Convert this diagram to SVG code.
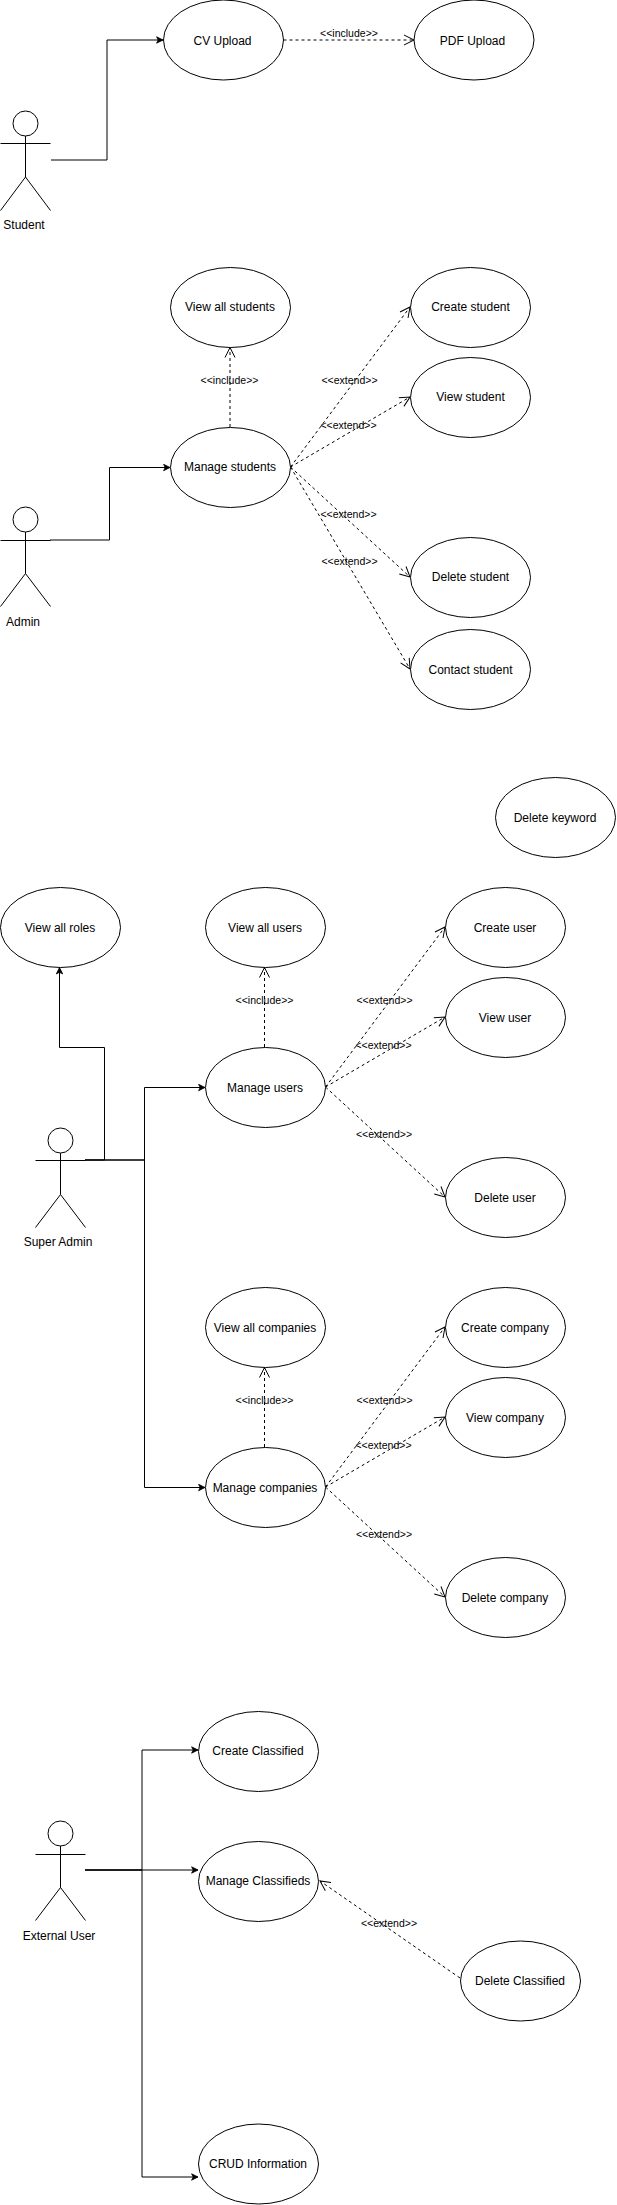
<svg xmlns="http://www.w3.org/2000/svg" width="617" height="2205" viewBox="0 0 617 2205">
<defs>
<style>
text{font-family:"Liberation Sans",Arial,sans-serif;fill:#000;text-anchor:middle}
.t{font-size:12px}
.l{font-size:10.500px}
.u{fill:#fff;stroke:#000;stroke-width:1}
.a{fill:none;stroke:#000;stroke-width:1}
.c{fill:none;stroke:#000;stroke-width:1;marker-end:url(#solid)}
.d{fill:none;stroke:#000;stroke-width:1;stroke-dasharray:3 3;marker-end:url(#open)}
</style>
<marker id="solid" viewBox="0 0 10 10" refX="9" refY="5" markerWidth="8" markerHeight="8" markerUnits="userSpaceOnUse" orient="auto"><path d="M1 1 L9 5 L1 9 L3 5 Z" fill="#000" stroke="#000" stroke-width="1"/></marker>
<marker id="open" viewBox="0 0 14 14" refX="13" refY="7" markerWidth="14" markerHeight="14" markerUnits="userSpaceOnUse" orient="auto"><path d="M3 2 L13 7 L3 12" fill="none" stroke="#000" stroke-width="1" stroke-dasharray="none"/></marker>
</defs>
<g id="connectors">
<path class="c" d="M51 160 H107 V40 H163"/>
<path class="d" d="M283.500 40 H414"/>
<path class="c" d="M50 540 H109.500 V467.500 H170"/>
<path class="d" d="M230 427 V347.500"/>
<path class="d" d="M290.500 467 L410 307"/>
<path class="d" d="M290.500 467 L410 397"/>
<path class="d" d="M290.500 467 L410 577"/>
<path class="d" d="M290.500 467 L410 669"/>
<path class="c" d="M85 1160 H104.500 V1047.500 H59.500 V967.500"/>
<path class="c" d="M85 1160 H144.500 V1087.500 H205"/>
<path class="c" d="M85 1160 H144.500 V1487.500 H205"/>
<path class="d" d="M264.500 1047 V967.500"/>
<path class="d" d="M325.500 1087 L445 927"/>
<path class="d" d="M325.500 1087 L445 1017"/>
<path class="d" d="M325.500 1087 L445 1197"/>
<path class="d" d="M264.500 1447 V1367.500"/>
<path class="d" d="M325.500 1487 L445 1327"/>
<path class="d" d="M325.500 1487 L445 1417"/>
<path class="d" d="M325.500 1487 L445 1597"/>
<path class="c" d="M85 1870 H142 V1750 H198"/>
<path class="c" d="M85 1870 H198"/>
<path class="c" d="M85 1870 H142 V2177 H198"/>
<path class="d" d="M460 1978 L320 1881"/>
<text class="l" x="349" y="36.500">&lt;&lt;include&gt;&gt;</text>
<text class="l" x="229.500" y="383.500">&lt;&lt;include&gt;&gt;</text>
<text class="l" x="349.500" y="383.500">&lt;&lt;extend&gt;&gt;</text>
<text class="l" x="348.500" y="428.500">&lt;&lt;extend&gt;&gt;</text>
<text class="l" x="348.500" y="517.500">&lt;&lt;extend&gt;&gt;</text>
<text class="l" x="349.500" y="564.500">&lt;&lt;extend&gt;&gt;</text>
<text class="l" x="264.500" y="1003.500">&lt;&lt;include&gt;&gt;</text>
<text class="l" x="384.500" y="1003.500">&lt;&lt;extend&gt;&gt;</text>
<text class="l" x="383.500" y="1048.500">&lt;&lt;extend&gt;&gt;</text>
<text class="l" x="384" y="1137.500">&lt;&lt;extend&gt;&gt;</text>
<text class="l" x="264.500" y="1403.500">&lt;&lt;include&gt;&gt;</text>
<text class="l" x="384.500" y="1403.500">&lt;&lt;extend&gt;&gt;</text>
<text class="l" x="383.500" y="1448.500">&lt;&lt;extend&gt;&gt;</text>
<text class="l" x="384" y="1537.500">&lt;&lt;extend&gt;&gt;</text>
<text class="l" x="389" y="1926.500">&lt;&lt;extend&gt;&gt;</text>
</g>
<g id="student"><ellipse class="a" cx="25.500" cy="123.500" rx="12.500" ry="12.500"/><path class="a" d="M25.500 136 V177 M0.500 143.500 H50.500 M25.500 177 L0.500 210.500 M25.500 177 L50.500 210.500"/><text class="t" x="24" y="229">Student</text></g>
<g id="admin"><ellipse class="a" cx="25.500" cy="519.500" rx="12.500" ry="12.500"/><path class="a" d="M25.500 532 V573.500 M0.500 540.500 H50.500 M25.500 573.500 L0.500 606.500 M25.500 573.500 L50.500 606.500"/><text class="t" x="23" y="626">Admin</text></g>
<g id="super-admin"><ellipse class="a" cx="60.500" cy="1140.500" rx="12.500" ry="12.500"/><path class="a" d="M60.500 1153 V1194.500 M35.500 1160.500 H85.500 M60.500 1194.500 L35.500 1227.500 M60.500 1194.500 L85.500 1227.500"/><text class="t" x="58" y="1246">Super Admin</text></g>
<g id="external-user"><ellipse class="a" cx="60.500" cy="1833.500" rx="12.500" ry="12.500"/><path class="a" d="M60.500 1846 V1887.500 M35.500 1854.500 H85.500 M60.500 1887.500 L35.500 1920.500 M60.500 1887.500 L85.500 1920.500"/><text class="t" x="59" y="1940">External User</text></g>
<g id="cv-upload"><ellipse class="u" cx="223.500" cy="40" rx="60" ry="40"/><text class="t" x="222.500" y="45">CV Upload</text></g>
<g id="pdf-upload"><ellipse class="u" cx="474" cy="40" rx="60" ry="40"/><text class="t" x="472.500" y="45">PDF Upload</text></g>
<g id="view-all-students"><ellipse class="u" cx="230.500" cy="307.500" rx="60" ry="40"/><text class="t" x="230" y="311">View all students</text></g>
<g id="manage-students"><ellipse class="u" cx="230.500" cy="467.500" rx="60" ry="40"/><text class="t" x="230" y="471">Manage students</text></g>
<g id="create-student"><ellipse class="u" cx="470.500" cy="307.500" rx="60" ry="40"/><text class="t" x="470.500" y="311">Create student</text></g>
<g id="view-student"><ellipse class="u" cx="470.500" cy="397.500" rx="60" ry="40"/><text class="t" x="470.500" y="401">View student</text></g>
<g id="delete-student"><ellipse class="u" cx="470.500" cy="577.500" rx="60" ry="40"/><text class="t" x="470.500" y="581">Delete student</text></g>
<g id="contact-student"><ellipse class="u" cx="470.500" cy="669.500" rx="60" ry="40"/><text class="t" x="470.500" y="674">Contact student</text></g>
<g id="delete-keyword"><ellipse class="u" cx="555.500" cy="817.500" rx="60" ry="40"/><text class="t" x="555" y="822">Delete keyword</text></g>
<g id="view-all-roles"><ellipse class="u" cx="60.500" cy="927.500" rx="60" ry="40"/><text class="t" x="60" y="932">View all roles</text></g>
<g id="view-all-users"><ellipse class="u" cx="265.500" cy="927.500" rx="60" ry="40"/><text class="t" x="265" y="932">View all users</text></g>
<g id="manage-users"><ellipse class="u" cx="265.500" cy="1087.500" rx="60" ry="40"/><text class="t" x="265" y="1092">Manage users</text></g>
<g id="create-user"><ellipse class="u" cx="505.500" cy="927.500" rx="60" ry="40"/><text class="t" x="505" y="932">Create user</text></g>
<g id="view-user"><ellipse class="u" cx="505.500" cy="1017.500" rx="60" ry="40"/><text class="t" x="505" y="1022">View user</text></g>
<g id="delete-user"><ellipse class="u" cx="505.500" cy="1197.500" rx="60" ry="40"/><text class="t" x="505" y="1202">Delete user</text></g>
<g id="view-all-companies"><ellipse class="u" cx="265.500" cy="1327.500" rx="60" ry="40"/><text class="t" x="265" y="1332">View all companies</text></g>
<g id="manage-companies"><ellipse class="u" cx="265.500" cy="1487.500" rx="60" ry="40"/><text class="t" x="265" y="1492">Manage companies</text></g>
<g id="create-company"><ellipse class="u" cx="505.500" cy="1327.500" rx="60" ry="40"/><text class="t" x="505" y="1332">Create company</text></g>
<g id="view-company"><ellipse class="u" cx="505.500" cy="1417.500" rx="60" ry="40"/><text class="t" x="505" y="1422">View company</text></g>
<g id="delete-company"><ellipse class="u" cx="505.500" cy="1597.500" rx="60" ry="40"/><text class="t" x="505" y="1602">Delete company</text></g>
<g id="create-classified"><ellipse class="u" cx="258.500" cy="1751.500" rx="60" ry="40"/><text class="t" x="258" y="1755">Create Classified</text></g>
<g id="manage-classifieds"><ellipse class="u" cx="258.500" cy="1881.500" rx="60" ry="40"/><text class="t" x="258" y="1885">Manage Classifieds</text></g>
<g id="delete-classified"><ellipse class="u" cx="520.500" cy="1981" rx="60" ry="40"/><text class="t" x="520" y="1985">Delete Classified</text></g>
<g id="crud-information"><ellipse class="u" cx="258.500" cy="2164" rx="60" ry="40"/><text class="t" x="258" y="2168">CRUD Information</text></g>
</svg>
